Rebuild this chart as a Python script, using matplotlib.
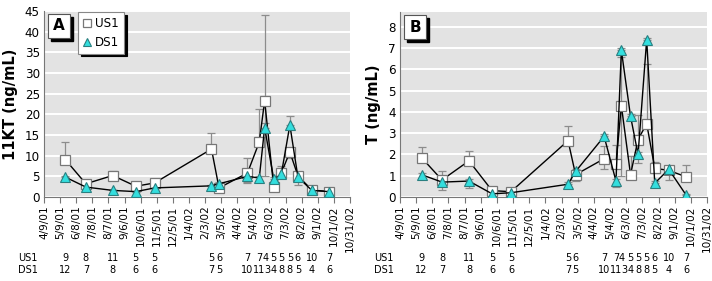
import matplotlib
matplotlib.use("Agg")
import matplotlib.pyplot as plt
from matplotlib.patches import Rectangle
import pandas as pd
import numpy as np

# ---------------- data ----------------
dates = ["2001-05-19", "2001-06-26", "2001-08-15", "2001-09-27", "2001-11-01",
         "2002-02-15", "2002-03-01", "2002-04-23", "2002-05-15", "2002-05-25",
         "2002-06-11", "2002-06-25", "2002-07-11", "2002-07-26", "2002-08-21",
         "2002-09-22"]

kt_us1 = [9.0, 3.2, 5.2, 2.6, 3.4, 11.6, 2.2, 5.8, 13.3, 23.3, 2.3, 5.8, 10.9, 5.1, 1.7, 1.3]
kt_us1_up = [4.2, 0.5, 1.1, 0.3, 0.3, 3.9, 0.3, 3.7, 7.9, 20.7, 0.3, 1.8, 1.0, 0.9, 0.2, 0.2]
kt_us1_lo = [0, 0, 0, 0, 0, 0, 0, 2.3, 0, 18.3, 0, 0, 1.5, 0, 0, 0]
kt_ds1 = [4.8, 2.4, 1.6, 1.3, 2.2, 2.7, 3.2, 5.0, 4.6, 16.8, 4.3, 5.5, 17.4, 4.8, 1.6, 1.3]
kt_ds1_up = [0.3, 0.3, 0.2, 0.2, 0.3, 0.3, 0.4, 0.5, 0.5, 1.0, 0.5, 0.8, 2.3, 1.0, 0.3, 0.2]
kt_ds1_lo = [0, 0, 0, 0, 0, 0, 0, 1.4, 0.8, 0, 0, 0, 0, 1.8, 0, 0]

t_us1 = [1.85, 0.8, 1.7, 0.3, 0.25, 2.65, 1.05, 1.8, 1.55, 4.3, 1.05, 2.7, 3.45, 1.35, 1.25, 0.95]
t_us1_up = [0.5, 0.4, 0.45, 0.05, 0.05, 0.7, 0.1, 0.6, 0.9, 2.3, 0.9, 1.15, 2.8, 0.3, 0.2, 0.55]
t_us1_lo = [0, 0, 0, 0, 0, 0, 0.3, 0.5, 0, 3.3, 0, 0, 0, 0, 0.45, 0]
t_ds1 = [1.05, 0.7, 0.75, 0.15, 0.2, 0.6, 1.2, 2.85, 0.75, 6.9, 3.8, 2.0, 7.4, 0.65, 1.3, 0.1]
t_ds1_up = [0.1, 0.1, 0.1, 0.05, 0.05, 0.1, 0.1, 0.1, 0.1, 0.1, 0.1, 0.1, 0.1, 0.1, 0.1, 0.05]
t_ds1_lo = [0.15, 0.35, 0.35, 0, 0, 0, 0.4, 0, 0.3, 0, 0, 0.4, 0, 0, 0, 0]

n_us1 = [9, 8, 11, 5, 5, 5, 6, 7, 7, 4, 5, 5, 5, 6, 10, 7]
n_ds1 = [12, 7, 8, 6, 6, 7, 5, 10, 11, 3, 4, 8, 8, 5, 4, 6]

tick_start = "2001-04-09"
n_ticks = 20
tick_step_days = 30

# ---------------- style ----------------
plt.rcParams['font.family'] = ['DejaVu Sans']

x = pd.to_datetime(dates)
ticks = pd.date_range(tick_start, periods=n_ticks, freq=f"{tick_step_days}D")
ticklabels = [f"{d.month}/{d.day}/{d.strftime('%y')}" for d in ticks]

W, H = 712, 281
fig = plt.figure(figsize=(W / 100, H / 100), dpi=100)

def px_axes(l, r, t, b):
    return fig.add_axes([l / W, 1 - b / H, (r - l) / W, (b - t) / H])

axA = px_axes(44, 350, 11, 197)
axB = px_axes(400, 707, 12, 197)

CYAN = "#33dede"
GRAY = "#8c8c8c"
CNT_FS = 7.0
CHAR_W = 4.4  # approx px per digit at CNT_FS


def spread(xs_px, labels):
    """push count labels apart so neighbouring numbers do not collide"""
    out = list(xs_px)
    for i in range(1, len(out)):
        need = (len(labels[i - 1]) + len(labels[i])) * CHAR_W / 2 + 1.5
        if out[i] - out[i - 1] < need:
            out[i] = out[i - 1] + need
    return out


def panel(ax, us, us_up, us_lo, ds, ds_up, ds_lo, ymax, ystep, ylabel, letter, legend):
    ax.set_facecolor("#e3e3e3")
    for s in ["top", "right"]:
        ax.spines[s].set_visible(False)
    for s in ["left", "bottom"]:
        ax.spines[s].set_color("#777777")
        ax.spines[s].set_linewidth(0.8)
    ax.set_ylim(0, ymax)
    ax.set_xlim(ticks[0], ticks[-1])
    yt = np.arange(0, int(ymax / ystep) * ystep + 1e-9, ystep)
    ax.set_yticks(yt)
    ax.set_yticklabels([f"{v:g}" for v in yt], fontsize=8.6)
    ax.yaxis.grid(True, color="white", linewidth=1.4)
    ax.set_axisbelow(True)
    ax.set_xticks(ticks)
    ax.set_xticklabels(ticklabels, rotation=90, fontsize=7.6)
    ax.tick_params(axis="x", length=4, color="#777777", pad=2)
    ax.tick_params(axis="y", length=0, pad=3)
    ax.set_ylabel(ylabel, fontsize=10.5, fontweight="bold", labelpad=5)

    ax.errorbar(x, us, yerr=[us_lo, us_up], fmt="none", ecolor=GRAY, elinewidth=0.9,
                capsize=3, capthick=0.9, zorder=2)
    ax.errorbar(x, ds, yerr=[ds_lo, ds_up], fmt="none", ecolor=GRAY, elinewidth=0.9,
                capsize=3, capthick=0.9, zorder=2)
    ax.plot(x, us, color="black", lw=1.0, marker="s", ms=6.5, mfc="white", mec="#777777",
            mew=0.9, zorder=3, label="US1")
    ax.plot(x, ds, color="black", lw=1.0, marker="^", ms=7.5, mfc=CYAN, mec="#2a7f80",
            mew=0.8, zorder=4, label="DS1")

    # panel letter box with shadow
    bw, bh = 22 / (ax.bbox.width), 24 / (ax.bbox.height)
    bx, by = 4 / ax.bbox.width, 1 - 27 / ax.bbox.height
    dx, dy = 3 / ax.bbox.width, 3 / ax.bbox.height
    ax.add_patch(Rectangle((bx + dx, by - dy), bw, bh, transform=ax.transAxes,
                           facecolor="black", edgecolor="black", zorder=6, clip_on=False))
    ax.add_patch(Rectangle((bx, by), bw, bh, transform=ax.transAxes,
                           facecolor="white", edgecolor="#555555", lw=0.8, zorder=7, clip_on=False))
    ax.text(bx + bw / 2, by + bh / 2, letter, transform=ax.transAxes, ha="center", va="center",
            fontsize=11, fontweight="bold", zorder=8)

    if legend:
        leg = ax.legend(loc="upper left", bbox_to_anchor=(34 / ax.bbox.width, 1 - 1 / ax.bbox.height),
                        frameon=True, fancybox=False, shadow={"color": "black", "alpha": 1},
                        fontsize=8.6, handlelength=0.7, handletextpad=0.35, borderpad=0.4,
                        labelspacing=0.5, borderaxespad=0, markerscale=0.85)
        leg.get_frame().set_edgecolor("#888888")
        leg.get_frame().set_linewidth(0.8)
        for h in leg.legend_handles:
            h.set_linestyle("none")
        leg.set_zorder(9)

    # sample size rows
    xs_px = [ax.transData.transform((xv, 0))[0] for xv in ax.convert_xunits(x)]
    for row, yrow in ((n_us1, 258), (n_ds1, 270)):
        labels = [str(v) for v in row]
        pos = spread(xs_px, labels)
        for px, lab in zip(pos, labels):
            fig.text(px / W, 1 - yrow / H, lab, ha="center", va="center", fontsize=CNT_FS)
    l_px = ax.bbox.x0
    fig.text((l_px - 26) / W, 1 - 258 / H, "US1", ha="left", va="center", fontsize=CNT_FS)
    fig.text((l_px - 26) / W, 1 - 270 / H, "DS1", ha="left", va="center", fontsize=CNT_FS)


panel(axA, kt_us1, kt_us1_up, kt_us1_lo, kt_ds1, kt_ds1_up, kt_ds1_lo, 45, 5,
      "11KT (ng/mL)", "A", True)
panel(axB, t_us1, t_us1_up, t_us1_lo, t_ds1, t_ds1_up, t_ds1_lo, 8.7, 1,
      "T (ng/mL)", "B", False)

fig.savefig("out.png", dpi=100)
